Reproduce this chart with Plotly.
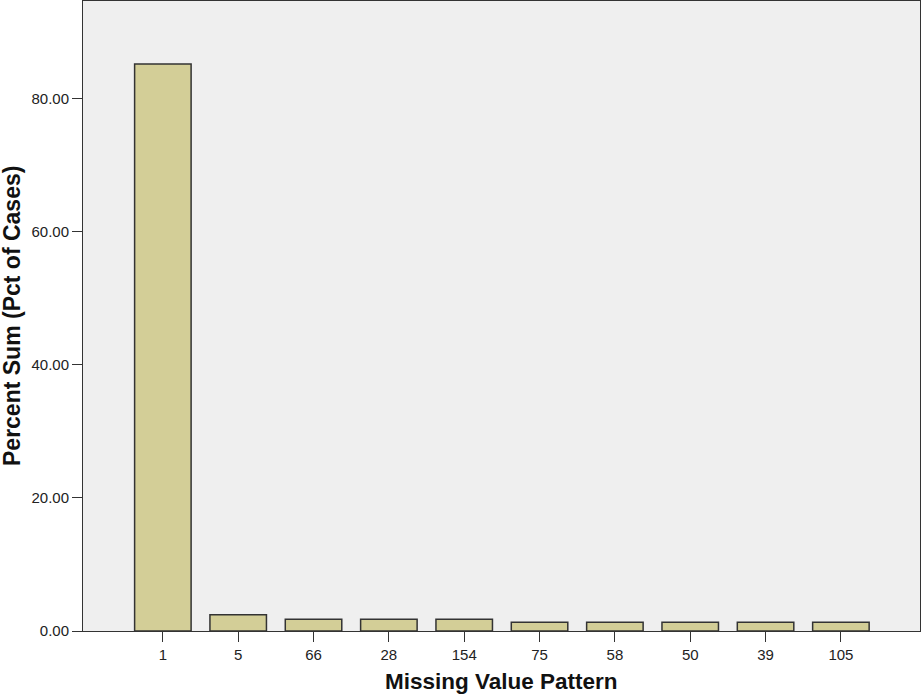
import plotly.graph_objects as go

categories = ["1", "5", "66", "28", "154", "75", "58", "50", "39", "105"]
values = [85.2, 2.45, 1.75, 1.75, 1.75, 1.3, 1.3, 1.3, 1.3, 1.3]
y_ticks = [0, 20, 40, 60, 80]
y_tick_labels = ["0.00", "20.00", "40.00", "60.00", "80.00"]

fig = go.Figure(go.Bar(
    x=categories, y=values, width=0.75,
    marker=dict(color="#D3CE97", line=dict(color="#333333", width=1.5)),
))

fig.update_layout(
    width=922, height=700,
    margin=dict(l=83, r=2, t=1, b=69),
    paper_bgcolor="white", plot_bgcolor="#EFEFEF",
    showlegend=False,
    font=dict(family="Liberation Sans, Arial, sans-serif", color="#222222"),
)
fig.update_xaxes(
    type="category", range=[-1.06, 10.05],
    showgrid=False, showline=True, linecolor="#333333", linewidth=1, mirror=True,
    ticks="outside", ticklen=10, tickcolor="#333333", tickwidth=1,
    tickfont=dict(size=15, color="#222222"),
)
fig.update_yaxes(
    range=[0, 94.65], tickvals=y_ticks, ticktext=y_tick_labels,
    showgrid=False, zeroline=False, showline=True, linecolor="#333333", linewidth=1, mirror=True,
    ticks="outside", ticklen=10, tickcolor="#333333", tickwidth=1,
    tickfont=dict(size=15, color="#222222"),
)
fig.add_annotation(
    text="<b>Percent Sum (Pct of Cases)</b>", textangle=-90,
    xref="paper", yref="paper", x=0, y=0.5, xanchor="center", yanchor="middle",
    xshift=-71, showarrow=False, font=dict(size=23, color="#111111"),
)
fig.add_annotation(
    text="<b>Missing Value Pattern</b>",
    xref="paper", yref="paper", x=0.5, y=0, xanchor="center", yanchor="middle",
    yshift=-50, showarrow=False, font=dict(size=22.5, color="#111111"),
)

fig.write_html(
    "out.html",
    config={"displayModeBar": False},
    post_script="document.body.style.margin='0';document.body.style.overflow='hidden';",
)
